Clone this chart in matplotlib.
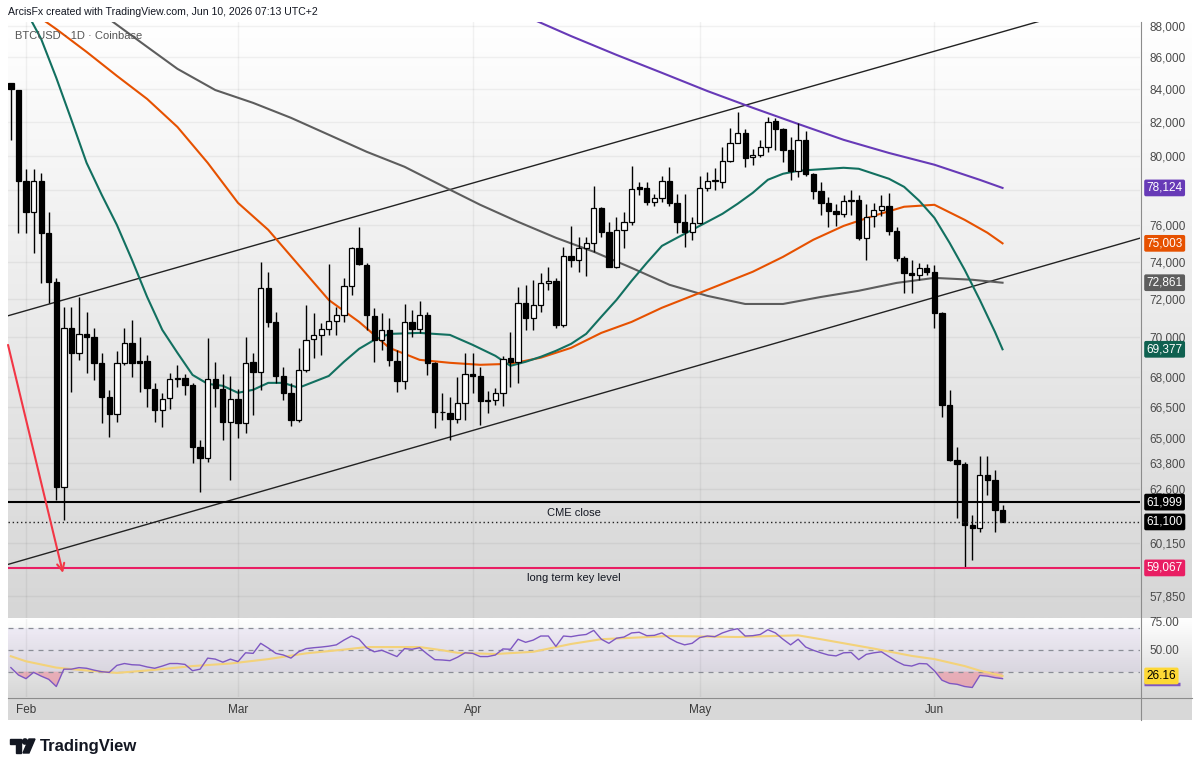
import matplotlib
matplotlib.use('Agg')
import matplotlib.pyplot as plt
import matplotlib.dates as mdates
import matplotlib.transforms as mtransforms
from matplotlib.colors import LinearSegmentedColormap
from matplotlib.patches import Polygon, Circle
from matplotlib.ticker import FixedLocator, FixedFormatter, NullLocator
import numpy as np
import pandas as pd

plt.rcParams['font.family'] = ['Liberation Sans', 'DejaVu Sans']

W, H = 1200, 771

# daily candles, Jan 30 - Jun 10 2026
dates = pd.date_range('2026-01-30', '2026-06-10', freq='D')
opens = [84380, 83960, 78540, 76760, 78540, 75590, 72910, 62690, 70480, 69200, 70170, 70010, 68690, 66990,
         66160, 68690, 69700, 68790, 68790, 67390, 66360, 66950, 67880, 67930, 67590, 64570, 64040, 67880,
         67390, 65770, 66900, 65730, 68740, 68230, 72590, 70790, 68030, 67190, 65870, 68340, 69910, 70110,
         70430, 70850, 71160, 72690, 74760, 73820, 71110, 69860, 70380, 68790, 67780, 70790, 70430, 71160,
         68690, 66260, 66210, 65920, 66690, 68130, 68030, 66800, 66850, 67190, 68940, 68740, 71790, 71000,
         71680, 72850, 72960, 70640, 74320, 74090, 74760, 75030, 76990, 75640, 73720, 75750, 76200, 78190,
         78130, 77330, 77560, 78540, 77270, 76200, 75640, 76140, 78130, 78540, 78480, 79700, 80760, 81360,
         79930, 80050, 80520, 82070, 81600, 80350, 79120, 80940, 78940, 77950, 77270, 76820, 76650, 77390,
         77440, 75310, 76540, 76880, 77100, 75700, 74200, 73390, 73280, 73660, 73450, 71260, 66600, 63940,
         63750, 60960, 60830, 63250, 63020, 61640]
highs = [84420, 83980, 79230, 79230, 79000, 76760, 73120, 71580, 71580, 72100, 71320, 70480, 69200, 67340,
         69300, 70480, 70900, 70000, 69100, 67680, 67190, 68180, 68590, 68130, 67680, 64900, 69960, 68740,
         68130, 68030, 67390, 70000, 69200, 73980, 73450, 71320, 68490, 67680, 69450, 71680, 71260, 70740,
         73880, 71580, 73120, 74810, 75920, 73930, 71530, 71260, 71000, 69350, 71730, 71420, 71890, 71320,
         68740, 67190, 66990, 67980, 69200, 69200, 68490, 67290, 67440, 69050, 70270, 72640, 72750, 73020,
         73390, 73720, 73120, 74810, 75970, 75370, 75370, 78240, 77050, 76200, 76480, 76760, 79410, 78480,
         78480, 77790, 78830, 79350, 77790, 77790, 76480, 78830, 79060, 79290, 80520, 81660, 82620, 81600,
         80400, 80940, 82320, 82260, 81660, 81120, 81950, 81480, 79000, 78480, 77610, 77220, 77730, 78010,
         77730, 77220, 77270, 77730, 77840, 75920, 74320, 74090, 73930, 73880, 73820, 71320, 67340, 64570,
         63850, 61420, 64120, 64120, 63480, 61870]
lows = [80940, 75590, 75590, 74480, 72850, 71790, 62100, 61190, 67240, 68840, 68180, 67830, 65730, 65050,
        65770, 68590, 67980, 67240, 66500, 65770, 65530, 66400, 67490, 67090, 63800, 62460, 63850, 66500,
        64900, 63020, 65000, 65240, 66110, 67340, 70530, 67680, 66850, 65580, 65770, 68230, 68940, 69100,
        70110, 70110, 70790, 72210, 73820, 70380, 68740, 69350, 68540, 67240, 67390, 70010, 70220, 68080,
        65480, 65870, 64900, 65730, 65870, 67190, 65630, 66210, 66600, 66550, 67490, 67680, 70380, 70380,
        71320, 72480, 70480, 70530, 73720, 73450, 73230, 74540, 75370, 73700, 73660, 74760, 76030, 77730,
        77160, 77100, 77330, 77100, 75590, 74810, 75200, 76090, 77950, 78010, 78130, 79640, 80760, 79350,
        79470, 79930, 80230, 80350, 79640, 78590, 78770, 78830, 77500, 76600, 75920, 75970, 76480, 76600,
        75200, 74090, 75920, 76540, 75480, 74040, 72320, 72320, 73020, 73280, 70480, 66020, 63890, 61280,
        59060, 59410, 60650, 62320, 60650, 61100]
closes = [84000, 78540, 76760, 78540, 75590, 72910, 62690, 70480, 69200, 70170, 70010, 68690, 66990, 66160,
          68690, 69700, 68690, 68690, 67440, 66360, 66900, 67880, 67930, 67590, 64570, 64040, 67880, 67440,
          65770, 66900, 65730, 68690, 68230, 72590, 70790, 68030, 67190, 65870, 68340, 69860, 70110, 70430,
          70850, 71160, 72690, 74760, 73880, 71160, 69860, 70380, 68840, 67780, 70790, 70430, 71160, 68690,
          66260, 66230, 65920, 66690, 68130, 68030, 66800, 66845, 67190, 68890, 68740, 71790, 71000, 71680,
          72850, 72960, 70640, 74320, 74090, 74760, 75030, 76990, 75640, 73720, 75750, 76200, 78070, 78070,
          77330, 77560, 78540, 77270, 76200, 75640, 76140, 78130, 78540, 78560, 79700, 80760, 81360, 79870,
          80050, 80520, 82010, 81600, 80350, 79120, 80940, 78940, 77950, 77270, 76820, 76650, 77390, 77440,
          75310, 76480, 76880, 77100, 75700, 74200, 73390, 73280, 73660, 73450, 71260, 66600, 63940, 63750,
          60960, 60830, 63250, 63020, 61640, 61100]

# moving averages
ma20_dates = ['2026-02-01', '2026-02-03', '2026-02-05', '2026-02-07', '2026-02-09', '2026-02-11', '2026-02-13',
              '2026-02-15', '2026-02-17', '2026-02-19', '2026-02-21', '2026-02-23', '2026-02-25', '2026-02-27',
              '2026-03-01', '2026-03-03', '2026-03-05', '2026-03-07', '2026-03-09', '2026-03-11', '2026-03-13',
              '2026-03-15', '2026-03-17', '2026-03-19', '2026-03-21', '2026-03-25', '2026-03-29', '2026-04-01',
              '2026-04-04', '2026-04-06', '2026-04-08', '2026-04-10', '2026-04-12', '2026-04-14', '2026-04-16',
              '2026-04-18', '2026-04-20', '2026-04-22', '2026-04-24', '2026-04-26', '2026-04-28', '2026-04-30',
              '2026-05-02', '2026-05-04', '2026-05-06', '2026-05-08', '2026-05-10', '2026-05-12', '2026-05-14',
              '2026-05-16', '2026-05-18', '2026-05-20', '2026-05-22', '2026-05-24', '2026-05-26', '2026-05-28',
              '2026-05-30', '2026-06-01', '2026-06-03', '2026-06-05', '2026-06-07', '2026-06-09', '2026-06-10']
ma20_vals = [89000, 87175, 84714, 82134, 79581, 77728, 76028, 74094, 72102, 70376, 69197, 68081, 67635, 67537,
             67192, 67339, 67684, 67684, 67438, 67733, 68030, 68742, 69401, 69858, 70167, 70219, 70115,
             69604, 69045, 68539, 68742, 68996, 69299, 69654, 70170, 71060, 71943, 72961, 73930, 74860, 75310,
             75752, 76198, 76651, 77217, 77841, 78594, 78942, 79116, 79175, 79233, 79291, 79233, 78942, 78652,
             78186, 77388, 76424, 75034, 73553, 71943, 70271, 69377]
ma50_dates = ['2026-02-03', '2026-02-05', '2026-02-09', '2026-02-13', '2026-02-17', '2026-02-21', '2026-02-25',
              '2026-03-01', '2026-03-05', '2026-03-09', '2026-03-13', '2026-03-17', '2026-03-21', '2026-03-25',
              '2026-03-29', '2026-04-02', '2026-04-06', '2026-04-10', '2026-04-14', '2026-04-18', '2026-04-22',
              '2026-04-26', '2026-04-30', '2026-05-04', '2026-05-08', '2026-05-12', '2026-05-16', '2026-05-20',
              '2026-05-24', '2026-05-28', '2026-06-01', '2026-06-05', '2026-06-08', '2026-06-10']
ma50_vals = [88500, 87810, 86350, 84840, 83410, 81710, 79580, 77270, 75750, 73820, 71940, 70790, 69450, 68840,
             68690, 68590, 68640, 68950, 69450, 70220, 70790, 71530, 72160, 72800, 73450, 74260, 75200, 75970,
             76540, 77050, 77160, 76310, 75590, 75003]
ma100_dates = ['2026-02-12', '2026-02-17', '2026-02-21', '2026-02-26', '2026-03-03', '2026-03-08', '2026-03-13',
               '2026-03-18', '2026-03-23', '2026-03-28', '2026-04-02', '2026-04-07', '2026-04-12', '2026-04-17',
               '2026-04-22', '2026-04-27', '2026-05-02', '2026-05-07', '2026-05-12', '2026-05-17', '2026-05-22',
               '2026-05-27', '2026-06-01', '2026-06-06', '2026-06-10']
ma100_vals = [88450, 86670, 85280, 83960, 83170, 82260, 81240, 80230, 79350, 78240, 77160, 76200, 75310, 74540,
              73660, 72750, 72160, 71730, 71730, 72100, 72430, 72850, 73120, 73020, 72861]
ma200_dates = ['2026-04-08', '2026-04-14', '2026-04-20', '2026-04-26', '2026-05-02', '2026-05-08', '2026-05-14',
               '2026-05-20', '2026-05-26', '2026-06-01', '2026-06-07', '2026-06-10']
ma200_vals = [88650, 87360, 86160, 85030, 83900, 82870, 81890, 80940, 80160, 79470, 78590, 78124]

# drawings
upper_dates = ['2026-01-29 15:00', '2026-06-17 14:00']
upper_vals = [71110, 88700]
lower_dates = ['2026-01-29 15:00', '2026-06-28 04:00']
lower_vals = [59220, 75290]
arrow_dates = ['2026-01-29 15:00', '2026-02-05 21:00']
arrow_vals = [69600, 58850]
cme_close = 61999
last_price = 61100
key_level = 59067

# RSI and its moving average
rsi = [33.7, 27.0, 23.7, 29.4, 26.0, 23.1, 16.6, 32.3, 32.3, 33.7, 33.1, 31.4, 30.0, 29.4, 35.7, 37.4, 36.3,
       36.0, 34.3, 33.1, 35.1, 37.4, 37.4, 36.6, 30.9, 32.3, 42.3, 41.4, 38.6, 41.4, 39.1, 47.1, 46.6, 55.7,
       51.4, 46.6, 45.1, 42.3, 48.0, 50.9, 51.7, 52.3, 53.1, 54.3, 58.6, 62.3, 59.4, 51.7, 48.0, 49.4, 46.6,
       43.7, 50.9, 50.3, 51.7, 46.0, 40.9, 40.6, 40.0, 43.1, 47.1, 46.6, 43.7, 43.7, 45.1, 50.6, 50.3, 59.4,
       56.6, 58.6, 62.3, 62.3, 52.9, 62.3, 61.7, 62.9, 63.7, 67.4, 59.4, 55.7, 60.3, 61.4, 65.1, 65.7, 62.6,
       62.9, 65.1, 60.3, 56.6, 54.3, 55.7, 60.9, 62.3, 61.7, 65.1, 67.4, 68.9, 62.3, 62.6, 63.7, 68.0, 65.1,
       59.4, 54.3, 59.4, 52.3, 49.4, 47.1, 45.1, 44.3, 47.1, 47.4, 40.9, 45.7, 47.1, 48.0, 43.7, 39.4, 36.0,
       35.1, 37.4, 37.1, 30.9, 22.3, 19.4, 18.6, 16.6, 15.7, 26.6, 26.0, 24.6, 23.7]
rsi_ma_dates = ['2026-01-30', '2026-02-01', '2026-02-05', '2026-02-08', '2026-02-13', '2026-02-18', '2026-02-23',
                '2026-02-28', '2026-03-05', '2026-03-10', '2026-03-15', '2026-03-18', '2026-03-20', '2026-03-25',
                '2026-03-28', '2026-03-30', '2026-04-04', '2026-04-09', '2026-04-14', '2026-04-18', '2026-04-27',
                '2026-05-06', '2026-05-14', '2026-05-17', '2026-05-24', '2026-05-29', '2026-06-01', '2026-06-05',
                '2026-06-07', '2026-06-10']
rsi_ma_vals = [44.0, 39.4, 33.7, 31.7, 28.9, 31.7, 35.1, 37.4, 41.4, 46.6, 50.0, 52.3, 52.3, 52.3, 49.4, 47.1,
               46.0, 48.0, 55.1, 59.4, 62.3, 61.4, 62.9, 59.4, 50.9, 44.3, 41.4, 35.1, 30.9, 26.16]

price_ticks = [57850, 60150, 62600, 63800, 65000, 66500, 68000, 70000, 72000, 74000, 76000, 78000,
               80000, 82000, 84000, 86000, 88000]
month_starts = ['2026-02-01', '2026-03-01', '2026-04-01', '2026-05-01', '2026-06-01']
month_labels = ['Feb', 'Mar', 'Apr', 'May', 'Jun']

TEAL = '#127060'
ORANGE = '#e65100'
GREY = '#5d5d5d'
PURPLE = '#673ab7'
INK = '#131722'


def px_box(x0, y0, x1, y1):
    return [x0 / W, 1 - y1 / H, (x1 - x0) / W, (y1 - y0) / H]


def dnum(values):
    return mdates.date2num(pd.to_datetime(values))


def gradient(rect, top, bottom):
    bg = fig.add_axes(px_box(*rect), zorder=0)
    cmap = LinearSegmentedColormap.from_list('bg', [top, bottom])
    bg.imshow(np.linspace(0, 1, 256).reshape(-1, 1), aspect='auto', cmap=cmap,
              extent=[0, 1, 0, 1], origin='upper')
    bg.axis('off')


def tag(axis, value, text, fc, tc='white', z=6):
    tr = mtransforms.blended_transform_factory(axis.transAxes, axis.transData)
    axis.text(1.0058, value, text, transform=tr, ha='left', va='center', fontsize=8.5, color=tc,
              zorder=z, clip_on=False,
              bbox=dict(boxstyle='round,pad=0.2,rounding_size=0.15', fc=fc, ec='none'))


fig = plt.figure(figsize=(W / 100, H / 100), dpi=100)
fig.patch.set_facecolor('white')

gradient((8, 22, 1192, 618), '#ffffff', '#d6d6d6')
gradient((8, 618, 1192, 697), '#ffffff', '#d6d6d6')
strip = fig.add_axes(px_box(8, 697, 1192, 720), zorder=0)
strip.set_facecolor('#d8d8d8')
strip.set_xticks([])
strip.set_yticks([])
for s in strip.spines.values():
    s.set_visible(False)

x_left = mdates.date2num(pd.Timestamp('2026-02-01')) - 2.38
x_right = mdates.date2num(pd.Timestamp('2026-02-01')) + 147.16
months = dnum(month_starts)

# ---- price pane ----
ax = fig.add_axes(px_box(8, 22, 1140, 618), zorder=2)
ax.patch.set_alpha(0)
ax.set_yscale('log')
ax.set_ylim(56930, 88270)
ax.set_xlim(x_left, x_right)
for s in ax.spines.values():
    s.set_visible(False)

ax.yaxis.set_major_locator(FixedLocator(price_ticks))
ax.yaxis.set_major_formatter(FixedFormatter(['' if v == 78000 else f'{v:,}' for v in price_ticks]))
ax.yaxis.set_minor_locator(NullLocator())
ax.yaxis.tick_right()
ax.tick_params(axis='y', length=0, pad=7, labelsize=8.5, labelcolor='#4a4a4a')
ax.set_xticks(months)
ax.tick_params(axis='x', length=0, labelbottom=False)
ax.grid(True, color='black', alpha=0.05, lw=1)
ax.set_axisbelow(True)

ax.plot(dnum(upper_dates), upper_vals, color='#222222', lw=1, zorder=2)
ax.plot(dnum(lower_dates), lower_vals, color='#222222', lw=1, zorder=2)

ax.plot(dnum(ma100_dates), ma100_vals, color=GREY, lw=1.5, zorder=2.5)
ax.plot(dnum(ma200_dates), ma200_vals, color=PURPLE, lw=1.5, zorder=2.5)
ax.plot(dnum(ma50_dates), ma50_vals, color=ORANGE, lw=1.5, zorder=2.5)
ax.plot(dnum(ma20_dates), ma20_vals, color=TEAL, lw=1.5, zorder=2.5)

xd = mdates.date2num(dates)
o, h, l, c = (np.array(v, dtype=float) for v in (opens, highs, lows, closes))
up = c >= o
ax.vlines(xd, l, h, color='black', lw=1, zorder=3)
ax.bar(xd, np.abs(c - o), bottom=np.minimum(o, c), width=0.7,
       color=np.where(up, 'white', 'black'), edgecolor='black', linewidth=0.9, zorder=4)

ax.axhline(cme_close, color='black', lw=1.5, zorder=5)
ax.axhline(last_price, color='#222222', lw=1, ls=(0, (1, 2)), zorder=5)
ax.axhline(key_level, color='#e91e63', lw=1.5, zorder=5)
ax.annotate('CME close', xy=(0.5, cme_close), xycoords=('axes fraction', 'data'), xytext=(0, -7.5),
            textcoords='offset points', ha='center', va='center', fontsize=8, color=INK)
ax.annotate('long term key level', xy=(0.5, key_level), xycoords=('axes fraction', 'data'),
            xytext=(0, -7.5), textcoords='offset points', ha='center', va='center', fontsize=8, color=INK)

ad = dnum(arrow_dates)
ax.annotate('', xy=(ad[1], arrow_vals[1]), xytext=(ad[0], arrow_vals[0]),
            arrowprops=dict(arrowstyle='->', color='#f23645', lw=1.5, mutation_scale=13,
                            shrinkA=0, shrinkB=0), zorder=5)

tag(ax, ma200_vals[-1], f'{ma200_vals[-1]:,}', PURPLE)
tag(ax, ma50_vals[-1], f'{ma50_vals[-1]:,}', ORANGE)
tag(ax, ma100_vals[-1], f'{ma100_vals[-1]:,}', GREY)
tag(ax, ma20_vals[-1], f'{ma20_vals[-1]:,}', '#0f6150')
tag(ax, cme_close, f'{cme_close:,}', 'black')
tag(ax, last_price, f'{last_price:,}', 'black')
tag(ax, key_level, f'{key_level:,}', '#e91e63')

# ---- RSI pane ----
rx = fig.add_axes(px_box(8, 619, 1140, 697), zorder=2)
rx.patch.set_alpha(0)
rx.set_xlim(x_left, x_right)
rx.set_ylim(7.1, 77.7)
for s in rx.spines.values():
    s.set_visible(False)
rx.axhspan(30, 70, color='#7e57c2', alpha=0.09, lw=0)
for lvl in (70, 50, 30):
    rx.axhline(lvl, color='#8a8d96', lw=0.9, ls=(0, (4, 4)))
rsi_arr = np.array(rsi)
rx.fill_between(xd, rsi_arr, 30, where=rsi_arr < 30, interpolate=True, color='#ef6f85', alpha=0.45, lw=0)
rx.plot(dnum(rsi_ma_dates), rsi_ma_vals, color='#f3d27a', lw=1.5, zorder=3)
rx.plot(xd, rsi_arr, color='#7e57c2', lw=1, zorder=4)
rx.yaxis.tick_right()
rx.set_yticks([25, 50, 75])
rx.set_yticklabels(['', '50.00', '75.00'])
rx.tick_params(axis='y', length=0, pad=7, labelsize=8.5, labelcolor='#4a4a4a')
rx.set_xticks(months)
rx.set_xticklabels(month_labels)
rx.tick_params(axis='x', length=0, pad=5, labelsize=8.5, labelcolor='#3a3a3a')
rx.grid(True, axis='x', color='black', alpha=0.05, lw=1)
# RSI value marker peeking out under the RSI-MA tag
rtr = mtransforms.blended_transform_factory(rx.transAxes, rx.transData)
rx.plot([1.0035, 1.0355], [rsi[-1] - 4.8, rsi[-1] - 4.8], transform=rtr, color='#7e57c2', lw=2.5,
        clip_on=False, zorder=5, solid_capstyle='butt')
tag(rx, rsi_ma_vals[-1], f'{rsi_ma_vals[-1]:.2f}', '#fdd835', tc='black', z=6)

# ---- frame, header and logo ----
ov = fig.add_axes([0, 0, 1, 1], zorder=6)
ov.set_xlim(0, W)
ov.set_ylim(H, 0)
ov.axis('off')
ov.plot([1140.5, 1140.5], [22, 720], color='#8c8c8c', lw=0.8)
ov.plot([8, 1192], [697.5, 697.5], color='#8c8c8c', lw=0.8)
ov.add_patch(Polygon([(10, 739), (21, 739), (21, 753), (16, 753), (16, 744), (10, 744)], color=INK))
ov.add_patch(Circle((25, 741.5), 2.6, color=INK))
ov.add_patch(Polygon([(29, 739), (35, 739), (29, 753), (23, 753)], color=INK))
ov.text(40, 746, 'TradingView', fontsize=12, fontweight='bold', va='center', ha='left', color=INK)

fig.text(8 / W, 1 - 12 / H, 'ArcisFx created with TradingView.com, Jun 10, 2026 07:13 UTC+2',
         fontsize=7.6, color=INK, va='center', ha='left')
fig.text(15 / W, 1 - 36 / H, 'BTCUSD · 1D · Coinbase', fontsize=8, color='#555555', va='center', ha='left',
         zorder=7)

fig.savefig('out.png', dpi=100, facecolor='white')
